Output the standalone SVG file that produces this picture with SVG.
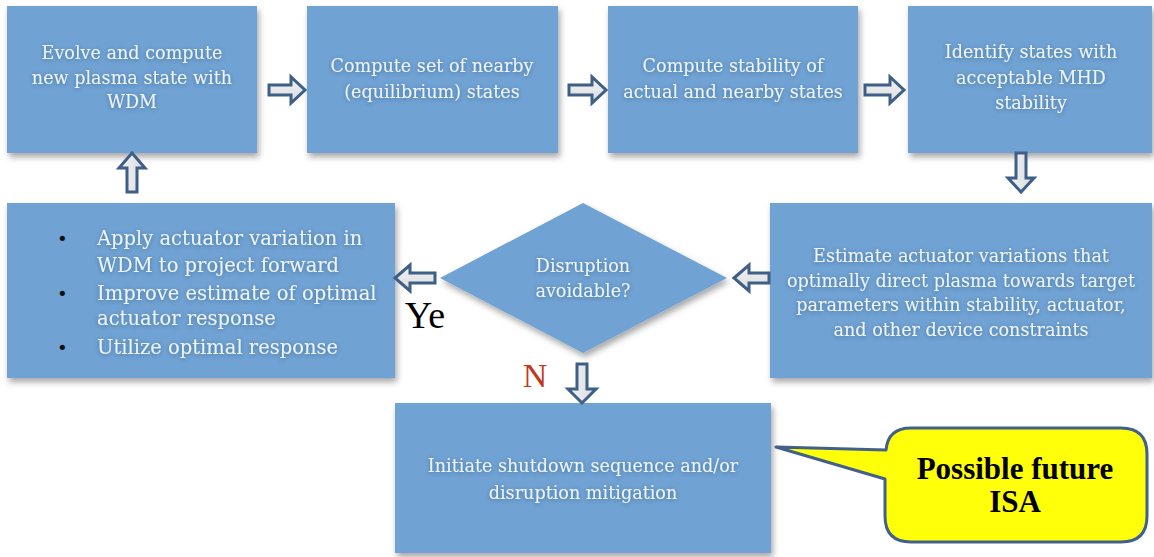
<svg xmlns="http://www.w3.org/2000/svg" width="1154" height="557" viewBox="0 0 1154 557">
<defs>
<filter id="sh" x="-10%" y="-10%" width="125%" height="130%">
<feDropShadow dx="2" dy="4" stdDeviation="3" flood-color="#000" flood-opacity="0.35"/>
</filter>
<filter id="ts" x="-10%" y="-30%" width="120%" height="160%">
<feDropShadow dx="0" dy="1" stdDeviation="2" flood-color="#1f3f66" flood-opacity="0.45"/>
</filter>
<linearGradient id="ag" x1="0" y1="0" x2="0" y2="1">
<stop offset="0" stop-color="#f2f3f4"/>
<stop offset="1" stop-color="#d9dcdf"/>
</linearGradient>
<linearGradient id="agv" x1="0" y1="0" x2="1" y2="0">
<stop offset="0" stop-color="#f2f3f4"/>
<stop offset="1" stop-color="#d9dcdf"/>
</linearGradient>
</defs>
<style>
.box{fill:#6fa2d3;filter:url(#sh)}
.t{font-family:"DejaVu Serif","Liberation Serif",serif;font-size:17.6px;fill:#f1f4f7;text-anchor:middle;filter:url(#ts)}
.tl{text-anchor:start;font-size:19.5px}
.bul{font-family:"DejaVu Sans",sans-serif;font-size:18px;fill:#111}
.arr{fill:url(#ag);stroke:#3e5f86;stroke-width:3;stroke-linejoin:miter}
.arrv{fill:url(#agv);stroke:#3e5f86;stroke-width:3;stroke-linejoin:miter}
</style>
<rect width="1154" height="557" fill="#fff"/>

<g id="n1">
<rect class="box" x="7" y="6" width="250" height="147"/>
<text class="t"><tspan x="132" y="59">Evolve and compute</tspan><tspan x="132" y="84">new plasma state with</tspan><tspan x="132" y="108">WDM</tspan></text>
</g>
<g id="n2">
<rect class="box" x="307" y="6" width="251" height="147"/>
<text class="t"><tspan x="432" y="72">Compute set of nearby</tspan><tspan x="432" y="98">(equilibrium) states</tspan></text>
</g>
<g id="n3">
<rect class="box" x="608" y="6" width="250" height="147"/>
<text class="t"><tspan x="733" y="72">Compute stability of</tspan><tspan x="733" y="98">actual and nearby states</tspan></text>
</g>
<g id="n4">
<rect class="box" x="908" y="6" width="244" height="147"/>
<text class="t"><tspan x="1031" y="58">Identify states with</tspan><tspan x="1031" y="84">acceptable MHD</tspan><tspan x="1031" y="109">stability</tspan></text>
</g>
<g id="n5">
<rect class="box" x="770" y="203" width="382" height="175"/>
<text class="t"><tspan x="961" y="262">Estimate actuator variations that</tspan><tspan x="961" y="287">optimally direct plasma towards target</tspan><tspan x="961" y="311">parameters within stability, actuator,</tspan><tspan x="961" y="336">and other device constraints</tspan></text>
</g>
<g id="n6">
<rect class="box" x="7" y="203" width="388" height="175"/>
<text class="bul" x="57" y="245">•</text>
<text class="bul" x="57" y="300">•</text>
<text class="bul" x="57" y="354">•</text>
<text class="t tl"><tspan x="97" y="245">Apply actuator variation in</tspan><tspan x="97" y="272">WDM to project forward</tspan><tspan x="97" y="300">Improve estimate of optimal</tspan><tspan x="97" y="325">actuator response</tspan><tspan x="97" y="354">Utilize optimal response</tspan></text>
</g>
<g id="d1">
<polygon points="583,203 727,278 583,353 440,278" fill="#6fa2d3" filter="url(#sh)"/>
<text class="t"><tspan x="583" y="272">Disruption</tspan><tspan x="583" y="297">avoidable?</tspan></text>
</g>
<g id="n7">
<rect class="box" x="395" y="403" width="376" height="150"/>
<text class="t"><tspan x="583" y="472">Initiate shutdown sequence and/or</tspan><tspan x="583" y="499">disruption mitigation</tspan></text>
</g>
<g id="callout">
<path d="M911,428 H1121 Q1147,428 1147,454 V516 Q1147,542 1121,542 H911 Q885,542 885,516 V479 L776,447 L886,450 Q888,428 911,428 Z" fill="#ffff0a" stroke="#41618a" stroke-width="3" stroke-linejoin="round"/>
<text font-family="'Liberation Serif',serif" font-weight="bold" font-size="31" fill="#000" text-anchor="middle"><tspan x="1015" y="479">Possible future</tspan><tspan x="1015" y="512">ISA</tspan></text>
</g>

<g id="connectors">
<polygon class="arr" points="269,85 291,85 291,77 305,90 291,103 291,95 269,95"/>
<polygon class="arr" points="569,85 592,85 592,77 606,90 592,103 592,95 569,95"/>
<polygon class="arr" points="865,85 890,85 890,77 904,90 890,103 890,95 865,95"/>
<polygon class="arrv" points="1016,153 1026,153 1026,178 1034,178 1021,192 1008,178 1016,178"/>
<polygon class="arrv" points="132,153 145,168 137,168 137,192 127,192 127,168 119,168"/>
<polygon class="arr" points="395,278 410,265 410,273 435,273 435,283 410,283 410,291"/>
<polygon class="arr" points="734,278 749,265 749,273 769,273 769,283 749,283 749,291"/>
<polygon class="arrv" points="577,364 587,364 587,389 596,389 582,403 568,389 577,389"/>
<text x="425" y="328" font-family="'Liberation Serif',serif" font-size="38" fill="#000" text-anchor="middle">Ye</text>
<text x="535" y="387" font-family="'Liberation Serif',serif" font-size="34" fill="#c1391a" text-anchor="middle">N</text>
</g>
</svg>
